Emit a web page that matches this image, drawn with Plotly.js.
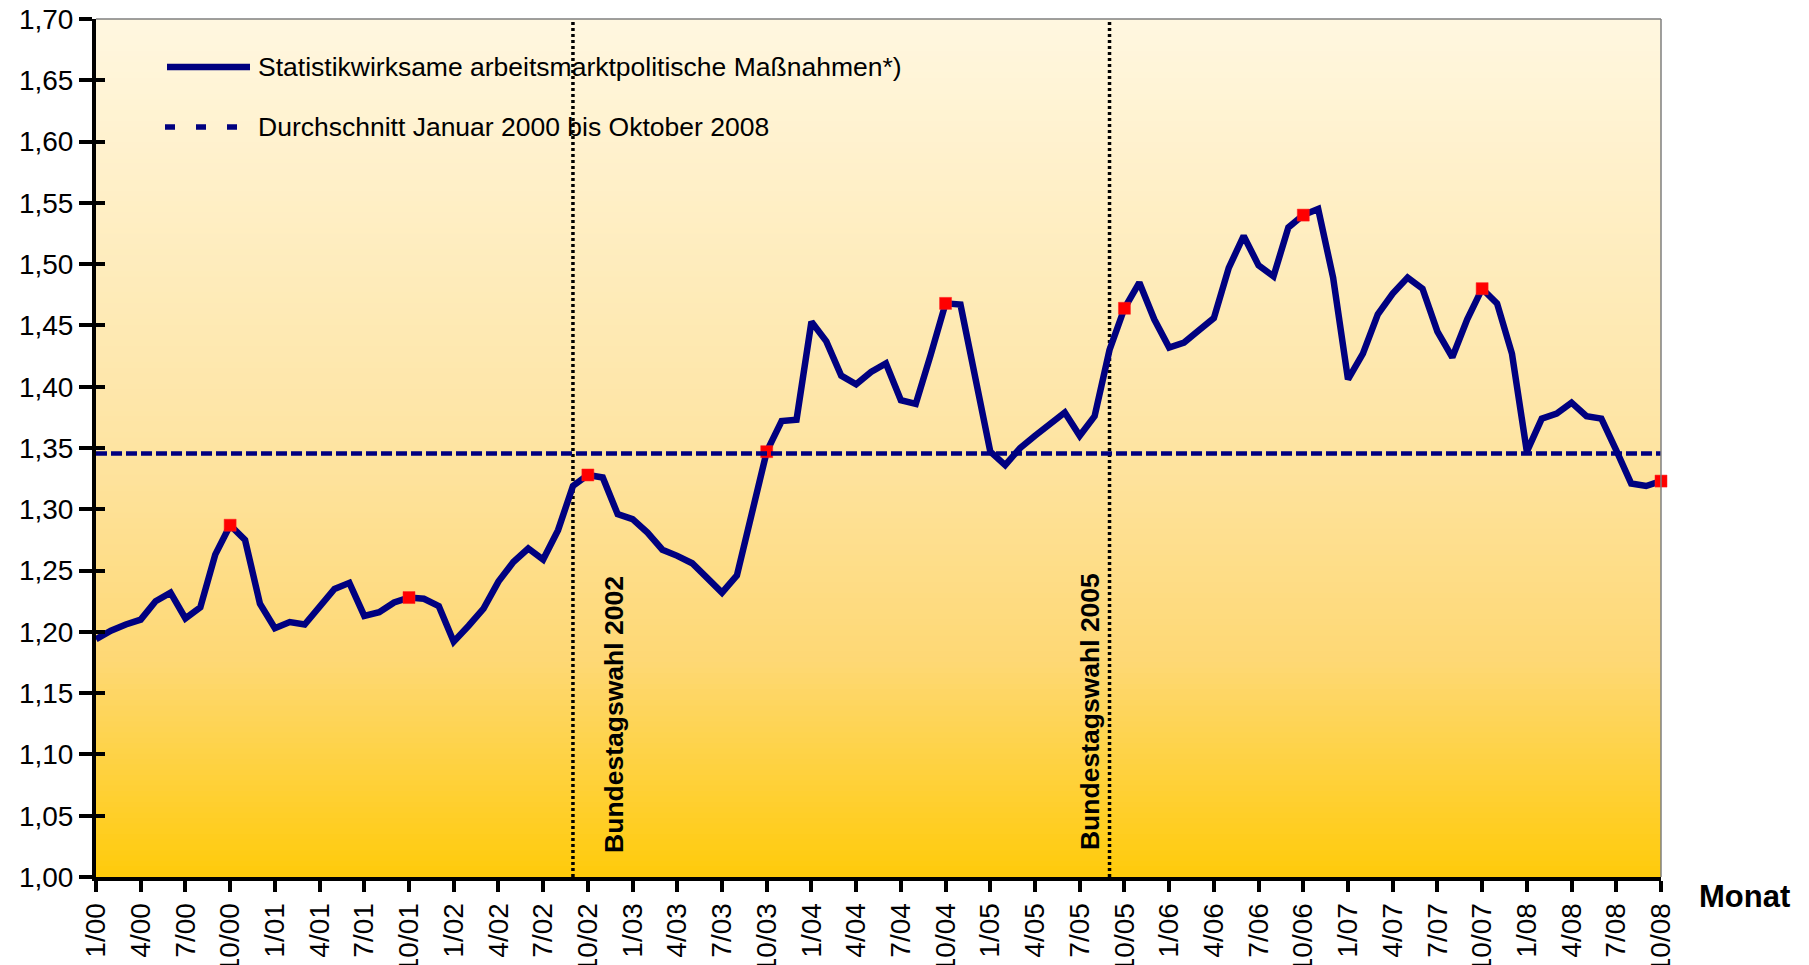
<!DOCTYPE html>
<html>
<head>
<meta charset="utf-8">
<script src="https://cdn.plot.ly/plotly-3.0.1.min.js"></script>
<style>
html,body{margin:0;padding:0;background:#ffffff;}
#chart{width:1809px;height:965px;}
</style>
</head>
<body>
<div id="chart"></div>
<script>
// ---------------- data ----------------
const months = [
  '1/00','2/00','3/00','4/00','5/00','6/00','7/00','8/00','9/00','10/00','11/00','12/00',
  '1/01','2/01','3/01','4/01','5/01','6/01','7/01','8/01','9/01','10/01','11/01','12/01',
  '1/02','2/02','3/02','4/02','5/02','6/02','7/02','8/02','9/02','10/02','11/02','12/02',
  '1/03','2/03','3/03','4/03','5/03','6/03','7/03','8/03','9/03','10/03','11/03','12/03',
  '1/04','2/04','3/04','4/04','5/04','6/04','7/04','8/04','9/04','10/04','11/04','12/04',
  '1/05','2/05','3/05','4/05','5/05','6/05','7/05','8/05','9/05','10/05','11/05','12/05',
  '1/06','2/06','3/06','4/06','5/06','6/06','7/06','8/06','9/06','10/06','11/06','12/06',
  '1/07','2/07','3/07','4/07','5/07','6/07','7/07','8/07','9/07','10/07','11/07','12/07',
  '1/08','2/08','3/08','4/08','5/08','6/08','7/08','8/08','9/08','10/08'
];

const values = [
  1.194, 1.201, 1.206, 1.210, 1.225, 1.232, 1.211, 1.220, 1.263, 1.287, 1.275, 1.223,
  1.203, 1.208, 1.206, 1.220, 1.235, 1.240, 1.213, 1.216, 1.224, 1.228, 1.227, 1.221,
  1.192, 1.205, 1.219, 1.241, 1.257, 1.268, 1.259, 1.283, 1.319, 1.328, 1.326, 1.296,
  1.292, 1.281, 1.267, 1.262, 1.256, 1.244, 1.232, 1.246, 1.296, 1.347, 1.372, 1.373,
  1.453, 1.437, 1.409, 1.402, 1.412, 1.419, 1.389, 1.386, 1.426, 1.468, 1.467, 1.408,
  1.347, 1.336, 1.350, 1.360, 1.370, 1.379, 1.360, 1.376, 1.430, 1.464, 1.485, 1.455,
  1.432, 1.436, 1.446, 1.456, 1.497, 1.523, 1.499, 1.490, 1.530, 1.540, 1.545, 1.489,
  1.406, 1.427, 1.459, 1.476, 1.489, 1.480, 1.445, 1.424, 1.455, 1.480, 1.468, 1.427,
  1.347, 1.374, 1.378, 1.387, 1.376, 1.374, 1.348, 1.321, 1.319, 1.323
];

const tickLabels = [
  '1/00','4/00','7/00','10/00','1/01','4/01','7/01','10/01','1/02','4/02','7/02','10/02',
  '1/03','4/03','7/03','10/03','1/04','4/04','7/04','10/04','1/05','4/05','7/05','10/05',
  '1/06','4/06','7/06','10/06','1/07','4/07','7/07','10/07','1/08','4/08','7/08','10/08'
];

const markerMonths = ['10/00','10/01','10/02','10/03','10/04','10/05','10/06','10/07','10/08'];

const averageValue = 1.3455;
const averageSpan = ['1/00', '10/08'];

const electionMonths = ['9/02', '9/05'];
const electionLabels = ['Bundestagswahl 2002', 'Bundestagswahl 2005'];

const seriesName = 'Statistikwirksame arbeitsmarktpolitische Maßnahmen*)';
const averageName = 'Durchschnitt Januar 2000 bis Oktober 2008';
const xAxisLabel = 'Monat';

// ---------------- geometry / styles ----------------
const W = 1809, H = 965;
const M = {l: 96, r: 148, t: 19, b: 88};
const PW = W - M.l - M.r, PH = H - M.t - M.b;
const fx = px => (px - M.l) / PW;
const fy = py => 1 - (py - M.t) / PH;
const FONT = 'Liberation Sans, Arial, Helvetica, sans-serif';
const NAVY = '#000080';

// background gradient (plot area)
const stops = [
  [0.00, [255, 247, 224]],
  [0.50, [254, 228, 162]],
  [0.75, [254, 216, 116]],
  [1.00, [255, 203, 10]]
];
function colAt(t) {
  for (let i = 0; i < stops.length - 1; i++) {
    const [t0, c0] = stops[i], [t1, c1] = stops[i + 1];
    if (t >= t0 && t <= t1) {
      const f = (t - t0) / (t1 - t0);
      return 'rgb(' + c0.map((v, k) => Math.round(v + (c1[k] - v) * f)).join(',') + ')';
    }
  }
  return 'rgb(255,203,10)';
}
const shapes = [];
const N = 160;
for (let k = 0; k < N; k++) {
  const tTop = k / N, tBot = (k + 1) / N;
  shapes.push({
    type: 'rect', xref: 'paper', yref: 'paper', layer: 'below',
    x0: 0, x1: 1, y0: 1 - tBot - 0.001, y1: 1 - tTop,
    fillcolor: colAt((tTop + tBot) / 2), line: {width: 0}
  });
}
// thin top / right plot border
shapes.push({type: 'line', xref: 'paper', yref: 'paper', x0: 0, x1: 1, y0: 1, y1: 1,
  line: {color: '#7f7f7f', width: 1.5}});
shapes.push({type: 'line', xref: 'paper', yref: 'paper', x0: 1, x1: 1, y0: 0, y1: 1,
  line: {color: '#7f7f7f', width: 1.5}});
// legend samples
shapes.push({type: 'line', xref: 'paper', yref: 'paper', x0: fx(167), x1: fx(250), y0: fy(67), y1: fy(67),
  line: {color: NAVY, width: 6.5}});
shapes.push({type: 'line', xref: 'paper', yref: 'paper', x0: fx(165), x1: fx(240), y0: fy(127), y1: fy(127),
  line: {color: NAVY, width: 5.5, dash: '10px,21px'}});

const annotations = [
  {xref: 'paper', yref: 'paper', x: fx(256), y: fy(67), xanchor: 'left', yanchor: 'middle',
   text: seriesName, showarrow: false, font: {family: FONT, size: 26.5, color: '#000'}},
  {xref: 'paper', yref: 'paper', x: fx(256), y: fy(127), xanchor: 'left', yanchor: 'middle',
   text: averageName, showarrow: false, font: {family: FONT, size: 26.5, color: '#000'}},
  {xref: 'x', yref: 'y', x: electionMonths[0], y: 1.133, xshift: 41, textangle: -90,
   text: '<b>' + electionLabels[0] + '</b>', showarrow: false, font: {family: FONT, size: 26.5, color: '#000'}},
  {xref: 'x', yref: 'y', x: electionMonths[1], y: 1.135, xshift: -20, textangle: -90,
   text: '<b>' + electionLabels[1] + '</b>', showarrow: false, font: {family: FONT, size: 26.5, color: '#000'}},
  {xref: 'paper', yref: 'paper', x: fx(1744), y: fy(896), xanchor: 'center', yanchor: 'middle',
   text: '<b>' + xAxisLabel + '</b>', showarrow: false, font: {family: FONT, size: 31, color: '#000'}}
];

// ---------------- traces ----------------
const traces = [
  {
    x: averageSpan, y: [averageValue, averageValue], xaxis: 'x', yaxis: 'y2',
    mode: 'lines', line: {color: NAVY, width: 4.5, dash: '11px,4px'},
    hoverinfo: 'skip', showlegend: false, name: averageName
  }
];
electionMonths.forEach((m, i) => {
  traces.push({
    x: [m, m], y: [1.0, 1.7], mode: 'lines',
    line: {color: '#000', width: 3.5, dash: '3px,3px'},
    hoverinfo: 'skip', showlegend: false, name: electionLabels[i]
  });
});
traces.push({
  x: months, y: values, mode: 'lines', name: seriesName,
  line: {color: NAVY, width: 6.5}, showlegend: false
});
traces.push({
  x: markerMonths, y: markerMonths.map(m => values[months.indexOf(m)]),
  mode: 'markers', name: 'Oktober', showlegend: false,
  marker: {symbol: 'square', size: 12, color: '#ff0000', line: {color: '#ff2020', width: 0.5}},
  cliponaxis: false
});

const layout = {
  width: W, height: H,
  margin: M,
  paper_bgcolor: '#ffffff',
  plot_bgcolor: 'rgba(0,0,0,0)',
  separators: ',.',
  showlegend: false,
  hovermode: false,
  font: {family: FONT, size: 28, color: '#000'},
  xaxis: {
    type: 'category', categoryorder: 'array', categoryarray: months,
    range: [0, months.length - 1],
    tickmode: 'array', tickvals: tickLabels, ticktext: tickLabels,
    tickangle: -90, tickfont: {family: FONT, size: 28, color: '#000'},
    ticks: 'outside', ticklen: 11, tickwidth: 4, tickcolor: '#000',
    showline: true, linecolor: '#000', linewidth: 4,
    showgrid: false, zeroline: false, fixedrange: true
  },
  yaxis: {
    range: [1.0, 1.7], tick0: 1.0, dtick: 0.05, tickformat: '.2f',
    tickfont: {family: FONT, size: 28, color: '#000'},
    ticks: 'outside', ticklen: 13, tickwidth: 4, tickcolor: '#000',
    showline: true, linecolor: '#000', linewidth: 4,
    showgrid: false, zeroline: false, fixedrange: true
  },
  yaxis2: {
    overlaying: 'y', side: 'left', anchor: 'x',
    range: [1.0, 1.7], tick0: 1.0, dtick: 0.05,
    ticks: 'inside', ticklen: 9, tickwidth: 4, tickcolor: '#000',
    showticklabels: false, showline: false, showgrid: false, zeroline: false, fixedrange: true
  },
  shapes: shapes,
  annotations: annotations
};

Plotly.newPlot('chart', traces, layout, {staticPlot: true, displayModeBar: false});
</script>
</body>
</html>
